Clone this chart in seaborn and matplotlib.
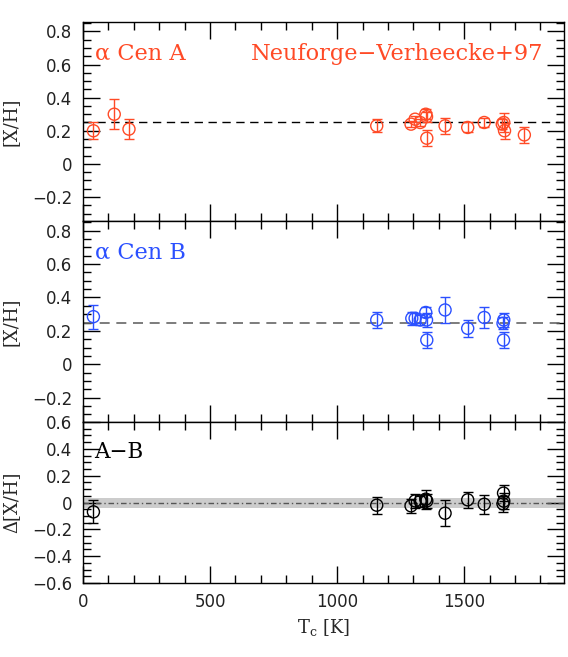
import numpy as np
import pandas as pd
import matplotlib
matplotlib.use("Agg")
import matplotlib.pyplot as plt
import seaborn as sns
from matplotlib.ticker import MultipleLocator, FuncFormatter

# condensation temperature (K), abundances and errors
tc_a = [41, 123, 181, 1156, 1291, 1307, 1327, 1349, 1352, 1353, 1425, 1514, 1579, 1650, 1656, 1659, 1737]
xh_a = [0.20, 0.30, 0.21, 0.23, 0.24, 0.27, 0.25, 0.30, 0.285, 0.155, 0.23, 0.22, 0.25, 0.24, 0.25, 0.20, 0.175]
err_a = [0.05, 0.09, 0.06, 0.04, 0.02, 0.02, 0.02, 0.03, 0.03, 0.05, 0.05, 0.03, 0.027, 0.03, 0.055, 0.047, 0.047]

tc_b = [41, 1156, 1294, 1307, 1327, 1349, 1352, 1353, 1425, 1514, 1579, 1653, 1656, 1655]
xh_b = [0.285, 0.265, 0.275, 0.275, 0.265, 0.31, 0.265, 0.145, 0.325, 0.215, 0.28, 0.245, 0.265, 0.145]
err_b = [0.072, 0.048, 0.038, 0.03, 0.03, 0.03, 0.04, 0.05, 0.08, 0.05, 0.06, 0.035, 0.04, 0.05]

tc_d = [41, 1156, 1291, 1307, 1327, 1349, 1353, 1425, 1514, 1579, 1655, 1656, 1653]
dxh = [-0.07, -0.02, -0.025, 0.012, 0.01, 0.025, 0.012, -0.08, 0.02, -0.013, 0.07, 0.01, -0.01]
err_d = [0.085, 0.063, 0.05, 0.05, 0.04, 0.07, 0.05, 0.095, 0.06, 0.07, 0.06, 0.06, 0.06]

ref_level = 0.25
band_lo, band_hi = -0.043, 0.03

col_a = "#ff4a26"
col_b = "#2b50ff"

sns.set_style("ticks")
plt.rcParams["font.family"] = ["DejaVu Sans"]
plt.rcParams["mathtext.fontset"] = "dejavuserif"

fig = plt.figure(figsize=(5.68, 6.57), dpi=100)
gs = fig.add_gridspec(3, 1, height_ratios=[199, 201, 161], hspace=0,
                      left=83/568, right=564/568, top=1-22/657, bottom=1-583/657)
axs = [fig.add_subplot(gs[i]) for i in range(3)]

def fmt(v, pos):
    if abs(v) < 1e-9:
        return "0"
    return ("%.1f" % v).replace("-", "\u2212")

serif = "DejaVu Serif"

panels = [
    (axs[0], tc_a, xh_a, err_a, col_a),
    (axs[1], tc_b, xh_b, err_b, col_b),
    (axs[2], tc_d, dxh, err_d, "black"),
]
for ax, t, v, e, c in panels:
    df = pd.DataFrame({"Tc": t, "val": v})
    ax.errorbar(t, v, yerr=e, fmt="none", ecolor=c, elinewidth=1, capsize=3.6, capthick=1, zorder=3)
    sns.scatterplot(data=df, x="Tc", y="val", ax=ax, marker="o", s=75,
                    facecolors="none", edgecolors=c, linewidth=1, zorder=4)
    ax.set_xlim(0, 1893)
    ax.xaxis.set_major_locator(MultipleLocator(500))
    ax.xaxis.set_minor_locator(MultipleLocator(100))
    ax.yaxis.set_major_locator(MultipleLocator(0.2))
    ax.yaxis.set_minor_locator(MultipleLocator(0.05))
    ax.yaxis.set_major_formatter(FuncFormatter(fmt))
    ax.tick_params(which="both", direction="in", top=True, right=True, width=1, color="black")
    ax.tick_params(which="major", length=12)
    ax.tick_params(which="minor", length=6)
    ax.tick_params(axis="y", labelsize=12, pad=7.5, labelcolor="#222222")
    ax.tick_params(axis="x", labelsize=12, pad=7, labelcolor="#222222")
    for s in ax.spines.values():
        s.set_linewidth(1)
        s.set_color("black")
    ax.set_xlabel("")

for ax in axs[:2]:
    ax.set_ylim(-0.345, 0.857)
    ax.tick_params(axis="x", labelbottom=False)

axs[0].axhline(ref_level, color="black", ls=(0, (6, 4)), lw=1, zorder=1)
axs[1].axhline(ref_level, color="#666666", ls=(0, (6, 4)), lw=1.2, zorder=1)

axs[2].set_ylim(-0.6, 0.6)
axs[2].axhspan(band_lo, band_hi, color="#cccccc", lw=0, zorder=0)
axs[2].axhline(0, color="#555555", ls=(0, (4, 2, 1, 2)), lw=1, zorder=1)

axs[0].set_ylabel("[X/H]", fontsize=13, family=serif)
axs[1].set_ylabel("[X/H]", fontsize=13, family=serif)
axs[2].set_ylabel("\u0394[X/H]", fontsize=13, family=serif)
for ax in axs:
    ax.yaxis.set_label_coords(-0.131, 0.5)

axs[2].set_xlabel("T$_{\\rm c}$ [K]", fontsize=13, family=serif)
axs[2].xaxis.set_label_coords(0.5, -0.21)

axs[0].text(47, 0.665, "\u03b1 Cen A", color=col_a, fontsize=16.2, family=serif, va="center", ha="left")
axs[0].text(1811, 0.665, "Neuforge\u2212Verheecke+97", color=col_a, fontsize=16.2, family=serif, va="center", ha="right")
axs[1].text(47, 0.67, "\u03b1 Cen B", color=col_b, fontsize=16.2, family=serif, va="center", ha="left")
axs[2].text(43, 0.38, "A\u2212B", color="black", fontsize=15.5, family=serif, va="center", ha="left")

fig.savefig("out.png", dpi=100)
